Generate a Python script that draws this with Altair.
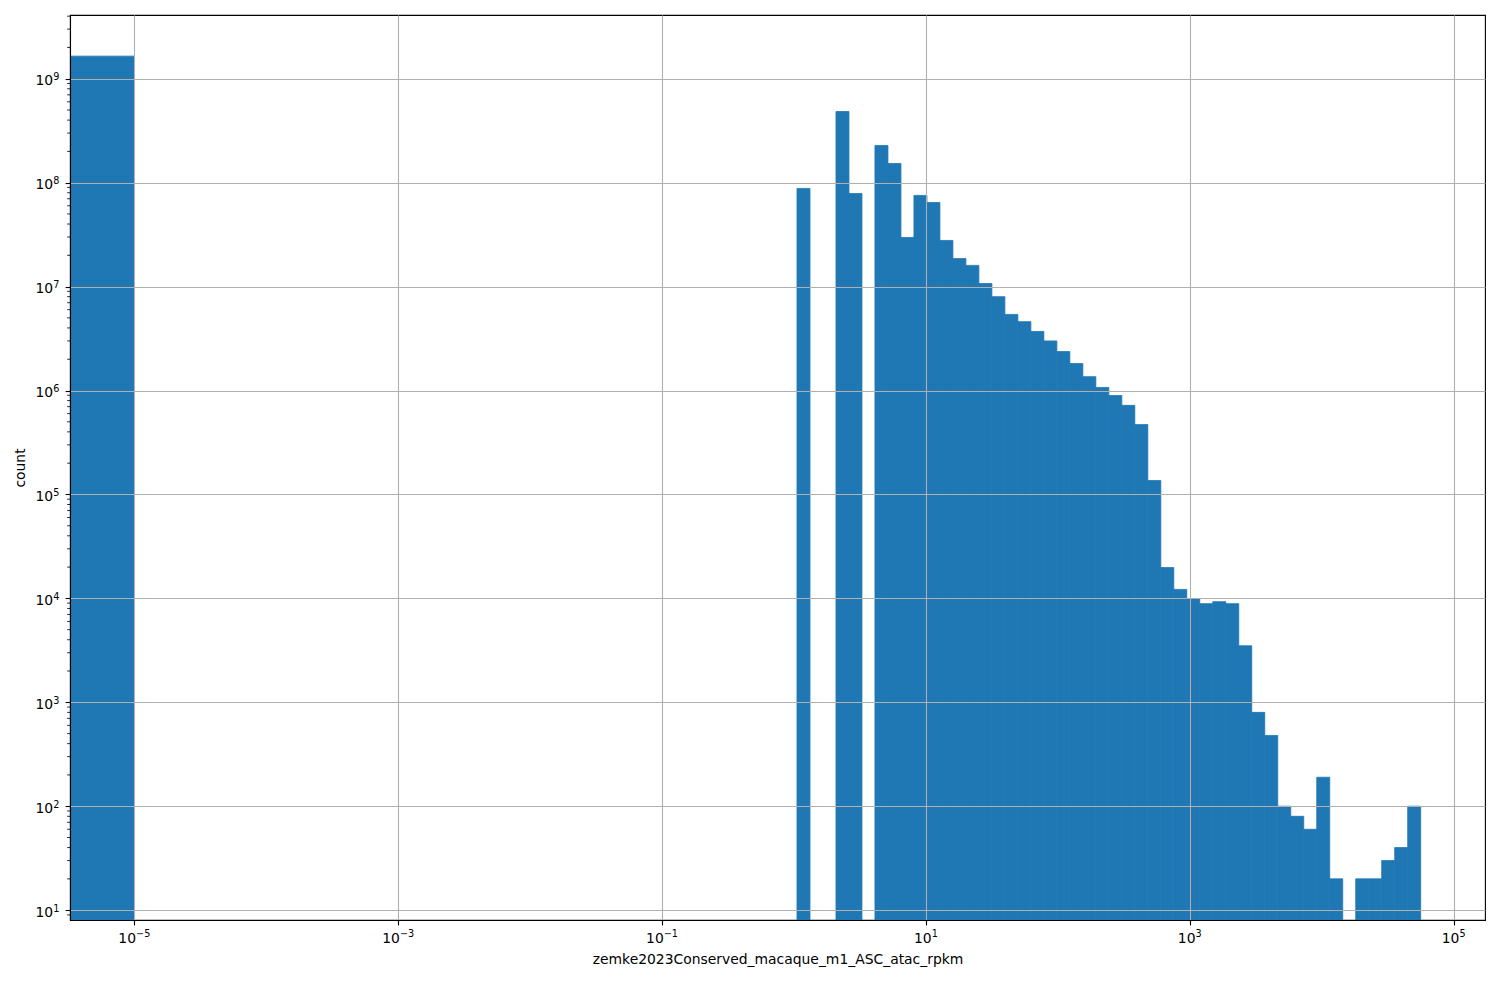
import altair as alt
import numpy as np
import pandas as pd

# ---- data ----
zero_bin_count = 1.65e9          # bar for values at 0 (drawn left of 1e-5)
first_bin = 51                   # index of first log bin that holds data
counts = [
    8.8e7, 0, 0, 4.84e8, 7.87e7, 0, 2.28e8, 1.53e8, 2.97e7, 7.54e7,
    6.44e7, 2.78e7, 1.86e7, 1.6e7, 1.07e7, 8.0e6, 5.4e6, 4.6e6, 3.7e6, 3.0e6,
    2.37e6, 1.82e6, 1.36e6, 1.07e6, 8.95e5, 7.2e5, 4.7e5, 1.36e5, 1.98e4, 1.22e4,
    9.95e3, 8.9e3, 9.3e3, 8.9e3, 3.5e3, 800, 480, 100, 80, 60,
    190, 20, 0, 20, 20, 30, 40, 100,
]
log_edge_min, log_edge_max, n_bins = -5, 4.75, 99
x_ticks = [1e-5, 1e-3, 1e-1, 1e1, 1e3, 1e5]
y_ticks = [10.0 ** p for p in range(1, 10)]
x_title = "zemke2023Conserved_macaque_m1_ASC_atac_rpkm"
y_title = "count"

# ---- build tables ----
edges = np.linspace(log_edge_min, log_edge_max, n_bins + 1)
rows = [{"lo": 1e-8, "hi": 10.0 ** log_edge_min, "count": zero_bin_count, "base": 1.0}]
for i, c in enumerate(counts):
    k = first_bin + i
    if c > 0:
        rows.append({"lo": 10 ** edges[k], "hi": 10 ** edges[k + 1], "count": c, "base": 1.0})
df = pd.DataFrame(rows)

ylo, yhi = 0.9052, 9.6133
minor = []
for p in range(0, 10):
    for m in range(2, 10):
        v = m * 10.0 ** p
        if 10 ** ylo < v < 10 ** yhi:
            minor.append(v)
minor_df = pd.DataFrame({"v": minor})


def exp_str(v):
    p = int(round(np.log10(v)))
    return str(p).replace("-", "\u2212")


xlab = pd.DataFrame({"v": x_ticks, "base": "10", "exp": [exp_str(v) for v in x_ticks]})
xlab_neg = xlab[xlab["v"] < 1]
xlab_pos = xlab[xlab["v"] > 1]
ylab = pd.DataFrame({"v": y_ticks, "base": "10", "exp": [exp_str(v) for v in y_ticks]})

W, H = 1415, 905
FONT = "DejaVu Sans"
FS, FS_SUP = 13.9, 9.7

xscale = alt.Scale(type="log", domain=[10 ** -5.4875, 10 ** 5.2375], nice=False)
yscale = alt.Scale(type="log", domain=[10 ** ylo, 10 ** yhi], nice=False)

common = dict(
    grid=True, gridColor="#b0b0b0", gridWidth=1.1,
    tickColor="black", tickSize=4.9, tickWidth=1.1, labels=False,
    domainColor="black", domainWidth=1.1,
    titleFontSize=FS, titleFont=FONT, titleFontWeight="normal", titleColor="black",
    zindex=1,
)

xaxis = alt.Axis(values=x_ticks, title=x_title, titlePadding=27, **common)
yaxis = alt.Axis(values=y_ticks, title=y_title, titlePadding=37, **common)

bars = alt.Chart(df).mark_rect(clip=True, color="#1f77b4", stroke="#1f77b4", strokeWidth=0.8).encode(
    x=alt.X("lo:Q", scale=xscale, axis=xaxis),
    x2="hi:Q",
    y=alt.Y("count:Q", scale=yscale, axis=yaxis),
    y2="base:Q",
)

minor_ticks = alt.Chart(minor_df).mark_rule(color="black", strokeWidth=0.85).encode(
    y=alt.Y("v:Q", scale=yscale),
    x=alt.value(-2.8),
    x2=alt.value(0),
)

txt = dict(font=FONT, color="black", baseline="alphabetic")

# x tick labels: "10" plus raised exponent
def xlabels(d, shift):
    a = alt.Chart(d).mark_text(align="right", fontSize=FS, dx=shift, **txt).encode(
        x=alt.X("v:Q", scale=xscale), y=alt.value(H + 22.7), text="base:N")
    b = alt.Chart(d).mark_text(align="left", fontSize=FS_SUP, dx=shift, **txt).encode(
        x=alt.X("v:Q", scale=xscale), y=alt.value(H + 16.7), text="exp:N")
    return [a, b]

w10 = 2 * 0.636 * FS
shift_neg = (w10 - (0.838 + 0.636) * FS_SUP) / 2
shift_pos = (w10 - 0.636 * FS_SUP) / 2

ylab_base = alt.Chart(ylab).mark_text(align="right", fontSize=FS, dy=6.7, **txt).encode(
    y=alt.Y("v:Q", scale=yscale), x=alt.value(-10.7 - 0.636 * FS_SUP), text="base:N")
ylab_exp = alt.Chart(ylab).mark_text(align="right", fontSize=FS_SUP, dy=1.7, **txt).encode(
    y=alt.Y("v:Q", scale=yscale), x=alt.value(-10.7), text="exp:N")

layers = [bars, minor_ticks] + xlabels(xlab_neg, shift_neg) + xlabels(xlab_pos, shift_pos) + [ylab_base, ylab_exp]

chart = alt.layer(*layers).properties(
    width=W, height=H,
    autosize=alt.AutoSizeParams(type="none"),
    padding={"left": 62, "top": 7, "right": 7, "bottom": 72},
    background="white",
).configure_view(stroke="black", strokeWidth=1.1)

chart.save("out.html", embed_options={"renderer": "svg", "actions": False})
